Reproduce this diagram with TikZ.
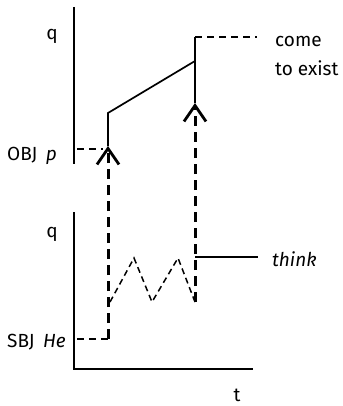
\documentclass[tikz,border=0pt]{standalone}
\usepackage{fontspec}
\setmainfont{Fira Sans}
\usetikzlibrary{arrows.meta}

\begin{document}
\begin{tikzpicture}[x=1pt,y=-1pt,
  lbl/.style={font=\fontsize{19}{22}\selectfont,inner sep=0pt},
  axisline/.style={line width=1.9pt},
  solidline/.style={line width=1.7pt},
  thindash/.style={line width=1.7pt,dash pattern=on 7pt off 5pt},
  zig/.style={line width=1.5pt,dash pattern=on 6pt off 4pt},
  shiftarr/.style={line width=3pt,dash pattern=on 10pt off 6pt,
    -{Straight Barb[length=16pt,width=22pt,line width=2.8pt]}}
]
\useasboundingbox (0,0) rectangle (342,406);
% upper panel: object
\coordinate (objtop) at (74,7);
\coordinate (objbot) at (74,164);
\draw[axisline] (objtop) -- (objbot);
\node[lbl] (q1) at (52,36) {q};
\node[lbl,anchor=base west] (obj) at (7,160) {OBJ\hspace{0.45em}\textit{p}};
\coordinate (objp) at (77,149);
\coordinate (objend) at (103,149);
\coordinate (tipa) at (108,146);
\coordinate (rise) at (108,113);
\coordinate (peak) at (195,61);
\coordinate (corner) at (195,37);
\coordinate (tipb) at (195,103);
\coordinate (comeend) at (257,37);
\node[lbl,anchor=base west] (come) at (275,47) {come};
\node[lbl,anchor=base west] (exist) at (275,76) {to exist};
\draw[thindash] (objp) -- (objend);
\draw[solidline] (tipa) -- (rise) -- (peak);
\draw[solidline] (tipb) -- (corner);
\draw[thindash] (corner) -- (comeend);
% lower panel: subject
\coordinate (sbjtop) at (74,212);
\coordinate (origin) at (74,369);
\coordinate (taxis) at (253,369);
\draw[axisline] (sbjtop) -- (origin) -- (taxis);
\node[lbl] (q2) at (52,234) {q};
\node[lbl] (t) at (237,395) {t};
\node[lbl,anchor=base west] (sbj) at (7,347) {SBJ\hspace{0.45em}\textit{He}};
\coordinate (he) at (77,339);
\coordinate (starta) at (108,339);
\coordinate (startb) at (195,302);
\coordinate (thinkstart) at (195,257);
\coordinate (thinkend) at (258,257);
\node[lbl,anchor=base west] (think) at (272,266) {\textit{think}};
\draw[thindash] (he) -- (starta);
\draw[zig] (110,302) -- (134,258) -- (152,302) -- (178,258) -- (startb);
\draw[solidline] (thinkstart) -- (thinkend);
% shifts between the panels
\draw[shiftarr] (starta) -- (tipa);
\draw[shiftarr] (startb) -- (tipb);
\end{tikzpicture}
\end{document}
